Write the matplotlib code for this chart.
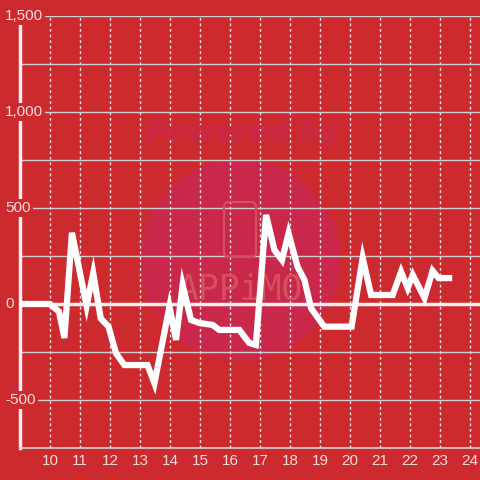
import matplotlib.pyplot as plt
from matplotlib.patches import Circle, FancyBboxPatch

# data
x = [9.0, 10.0, 10.3, 10.48, 10.73, 11.22, 11.44, 11.69, 11.95, 12.2, 12.48, 13.25, 13.48,
     13.98, 14.2, 14.42, 14.7, 14.98, 15.42, 15.64, 16.31, 16.64, 16.86, 17.2, 17.48, 17.73,
     17.95, 18.25, 18.48, 18.7, 19.14, 20.05, 20.42, 20.7, 21.42, 21.7, 21.92, 22.09, 22.48,
     22.75, 22.95, 23.3]
y = [0, 0, -40, -177, 371, -10, 160, -75, -118, -257, -318, -318, -413,
     -14, -187, 99, -83, -99, -109, -135, -135, -203, -213, 464, 281, 229,
     368, 194, 125, -22, -118, -118, 240, 47, 47, 168, 83, 151, 31,
     173, 135, 135]
yticks = [-500, 0, 500, 1000, 1500]
ytick_labels = ["-500", "0", "500", "1,000", "1,500"]
xticks = list(range(10, 25))

bg = "#cd2a2f"
plt.rcParams['font.family'] = ['Liberation Sans', 'DejaVu Sans']

fig = plt.figure(figsize=(4.8, 4.8), dpi=100, facecolor=bg)
ax = fig.add_axes([20 / 480, 32 / 480, 460 / 480, 432 / 480])
ax.set_facecolor(bg)

# watermark
ax.add_patch(Circle((240 / 480, 1 - 260 / 480), 100 / 480, transform=fig.transFigure,
                    facecolor="#c9284a", edgecolor="none", zorder=0.5))
ax.text(243 / 480, 1 - 133 / 480, "Powered by", transform=fig.transFigure, ha="center",
        va="center", fontsize=21, fontweight="bold", style="italic", family="DejaVu Sans",
        color="#c92947", zorder=0.6)
ax.add_patch(FancyBboxPatch((224 / 480, 1 - 257 / 480), 32 / 480, 55 / 480,
                            boxstyle="round,pad=0,rounding_size=0.01",
                            transform=fig.transFigure, facecolor="none",
                            edgecolor="#d4505f", lw=1.5, zorder=0.6))
ax.text(240 / 480, 1 - 289 / 480, "APPiMO", transform=fig.transFigure, ha="center",
        va="center", fontsize=25, family="DejaVu Sans Mono", color="#d4505f", zorder=0.6)

ax.plot(x, y, color="white", lw=4.5, solid_joinstyle="miter", zorder=4)
ax.axhline(0, color="#f4f0f0", lw=2.5, zorder=3)

ax.set_xlim(9, 24.33)
ax.set_ylim(-750, 1500)
ax.set_yticks(range(-750, 1501, 250))
ax.set_xticks(xticks)
ax.tick_params(length=0)
ax.set_yticklabels([])
ax.set_xticklabels([str(t) for t in xticks], color="#f0dcdc", fontsize=11)
ax.tick_params(axis="x", pad=4)

ax.yaxis.grid(True, color="#cfcfcf", lw=1, zorder=1)
ax.xaxis.grid(True, color="#f0e6e6", lw=1, linestyle=(0, (2, 2)), zorder=1)
ax.set_axisbelow(True)

for s in ["top", "right"]:
    ax.spines[s].set_visible(False)
ax.spines["left"].set_color("#f4f0f0")
ax.spines["left"].set_linewidth(2.5)
ax.spines["left"].set_bounds(-750, 1460)
ax.spines["bottom"].set_color("#d8d0d0")
ax.spines["bottom"].set_linewidth(1.2)

for v, lab in zip(yticks, ytick_labels):
    ax.text(-15 / 460, v, lab, transform=ax.get_yaxis_transform(), ha="left", va="center",
            fontsize=11, color="#f0dcdc", zorder=6, clip_on=False,
            bbox=dict(facecolor=bg, edgecolor="none", pad=1.5))

fig.savefig("out.png", dpi=100, facecolor=bg)
